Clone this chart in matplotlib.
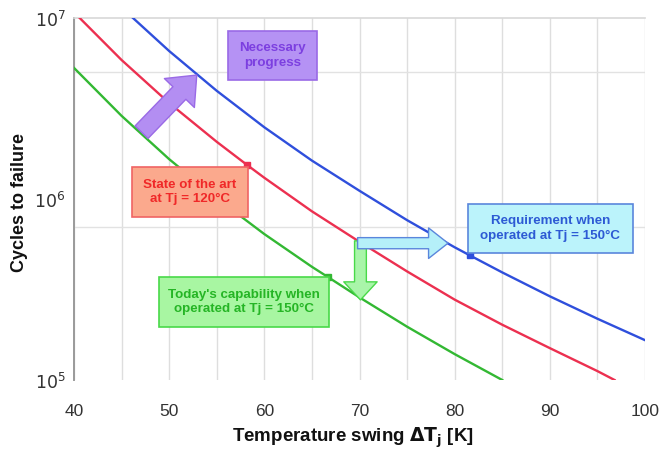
import matplotlib
matplotlib.use("Agg")
import matplotlib.pyplot as plt
from matplotlib.patches import Rectangle, FancyArrowPatch

plt.rcParams['font.family'] = ['Liberation Sans', 'DejaVu Sans']

# ---- data ----
green_dT = [40, 45, 50, 55, 60, 65, 66.7, 70, 75, 80, 85]
green_N = [5.3e6, 2.88e6, 1.66e6, 1.01e6, 6.4e5, 4.22e5, 3.7e5, 2.86e5, 1.97e5, 1.39e5, 1.0e5]

red_dT = [40.6, 45, 50, 55, 58.2, 60, 65, 70, 75, 80, 85, 90, 95, 96.8]
red_N = [1.0e7, 5.86e6, 3.39e6, 2.07e6, 1.54e6, 1.31e6, 8.55e5, 5.8e5, 3.98e5, 2.78e5, 2.02e5, 1.5e5, 1.12e5, 1.0e5]

blue_dT = [46.2, 50, 55, 60, 65, 70, 75, 80, 81.6, 85, 90, 95, 100]
blue_N = [1.0e7, 6.57e6, 3.96e6, 2.49e6, 1.63e6, 1.11e6, 7.64e5, 5.41e5, 4.88e5, 3.93e5, 2.9e5, 2.18e5, 1.66e5]

marker_dT = [58.2, 66.7, 81.6]
marker_N = [1.54e6, 3.7e5, 4.88e5]

x_ticks = [40, 50, 60, 70, 80, 90, 100]
y_ticks = [1e5, 1e6, 1e7]
y_tick_labels = ['$10^5$', '$10^6$', '$10^7$']

box_texts = ['Necessary\nprogress',
             'State of the art\nat Tj = 120°C',
             "Today's capability when\noperated at Tj = 150°C",
             'Requirement when\noperated at Tj = 150°C']

C_BLUE = '#2f4fdc'
C_RED = '#ec3050'
C_GREEN = '#33b833'

fig = plt.figure(figsize=(6.61, 4.49), dpi=100)
W, H = 661, 449
L, R, T, B = 74, 645, 18, 380
ax = fig.add_axes([L / W, 1 - B / H, (R - L) / W, (B - T) / H])

ax.set_xscale('linear')
ax.set_yscale('log')
ax.set_xlim(40, 100)
ax.set_ylim(1e5, 1e7)

# grid
for xv in range(40, 101, 5):
    ax.axvline(xv, color='#dedede', lw=1.0, zorder=0)
for yv in [5e6, 7e5]:
    ax.axhline(yv, color='#e2e2e2', lw=1.0, zorder=0)

ax.plot(green_dT, green_N, color=C_GREEN, lw=1.7, zorder=3)
ax.plot(red_dT, red_N, color=C_RED, lw=1.7, zorder=3)
ax.plot(blue_dT, blue_N, color=C_BLUE, lw=1.7, zorder=3)

for xd, yd, c in zip(marker_dT, marker_N, [C_RED, C_GREEN, C_BLUE]):
    ax.plot([xd], [yd], marker='s', ms=4.5, color=c, zorder=6)

for s in ['bottom', 'right']:
    ax.spines[s].set_visible(False)
ax.spines['left'].set_color('#9a9a9a')
ax.spines['left'].set_linewidth(1.4)
ax.spines['top'].set_color('#d8d8d8')
ax.spines['top'].set_linewidth(1.2)

ax.set_xticks(x_ticks)
ax.set_xticklabels([str(v) for v in x_ticks])
ax.set_yticks(y_ticks)
ax.set_yticklabels(y_tick_labels)
ax.yaxis.set_minor_locator(matplotlib.ticker.NullLocator())
ax.tick_params(axis='both', length=0, labelsize=12.5, colors='#333333')
ax.tick_params(axis='x', pad=17)
ax.tick_params(axis='y', pad=6)

def fx(px):
    return (px - L) / (R - L)

def fy(py):
    return (B - py) / (B - T)

ax.set_xlabel('Temperature swing $\\mathbf{\\Delta T_j}$ [K]', fontsize=13.5,
              fontweight='bold', color='#111111')
ax.xaxis.set_label_coords(fx(353), fy(438))
ax.set_ylabel('Cycles to failure', fontsize=13, fontweight='bold',
              color='#111111')
ax.yaxis.set_label_coords(fx(19), fy(202))
ax.yaxis.label.set_va('center')
ax.xaxis.label.set_va('center')

# boxes: (x0, y0, x1, y1) in pixels, fill, edge, text color
boxes = [
    ((228, 31, 317, 80), '#b592f4', '#9a6ae6', '#7c3fe0'),
    ((132, 167, 248, 217), '#fba98d', '#f06464', '#f02828'),
    ((159, 277, 329, 327), '#a8f6a2', '#49d949', '#25b525'),
    ((468, 204, 633, 253), '#bbf3fb', '#5a86dc', '#2d5ad4'),
]
for box, txt in zip(boxes, box_texts):
    (x0, y0, x1, y1), fc, ec, tc = box
    ax.add_patch(Rectangle((fx(x0), fy(y1)), fx(x1) - fx(x0), fy(y0) - fy(y1),
                           transform=ax.transAxes, facecolor=fc, edgecolor=ec,
                           lw=1.2, zorder=7, clip_on=False))
    ax.text((fx(x0) + fx(x1)) / 2, (fy(y0) + fy(y1)) / 2, txt,
            transform=ax.transAxes, ha='center', va='center', fontsize=9.6,
            fontweight='bold', color=tc, zorder=8, linespacing=1.3)

# fat arrows (data coordinates)
arrows = [
    ((47.1, 2.34e6), (52.9, 4.84e6), '#b38ef2', '#9a6ae6', 13, 30, 18),
    ((70.1, 5.87e5), (70.1, 2.77e5), '#a9f5a9', '#49d949', 8.5, 24, 13),
    ((69.8, 5.7e5), (79.3, 5.7e5), '#b5f0f9', '#5a86dc', 8, 22, 14),
]
for (p0, p1, fc, ec, tw, hw, hl) in arrows:
    a = FancyArrowPatch(p0, p1,
                        arrowstyle=f'simple,tail_width={tw},head_width={hw},head_length={hl}',
                        mutation_scale=1, facecolor=fc, edgecolor=ec, lw=1.0,
                        zorder=5, shrinkA=0, shrinkB=0)
    ax.add_patch(a)

fig.savefig('out.png', dpi=100, facecolor='white')
